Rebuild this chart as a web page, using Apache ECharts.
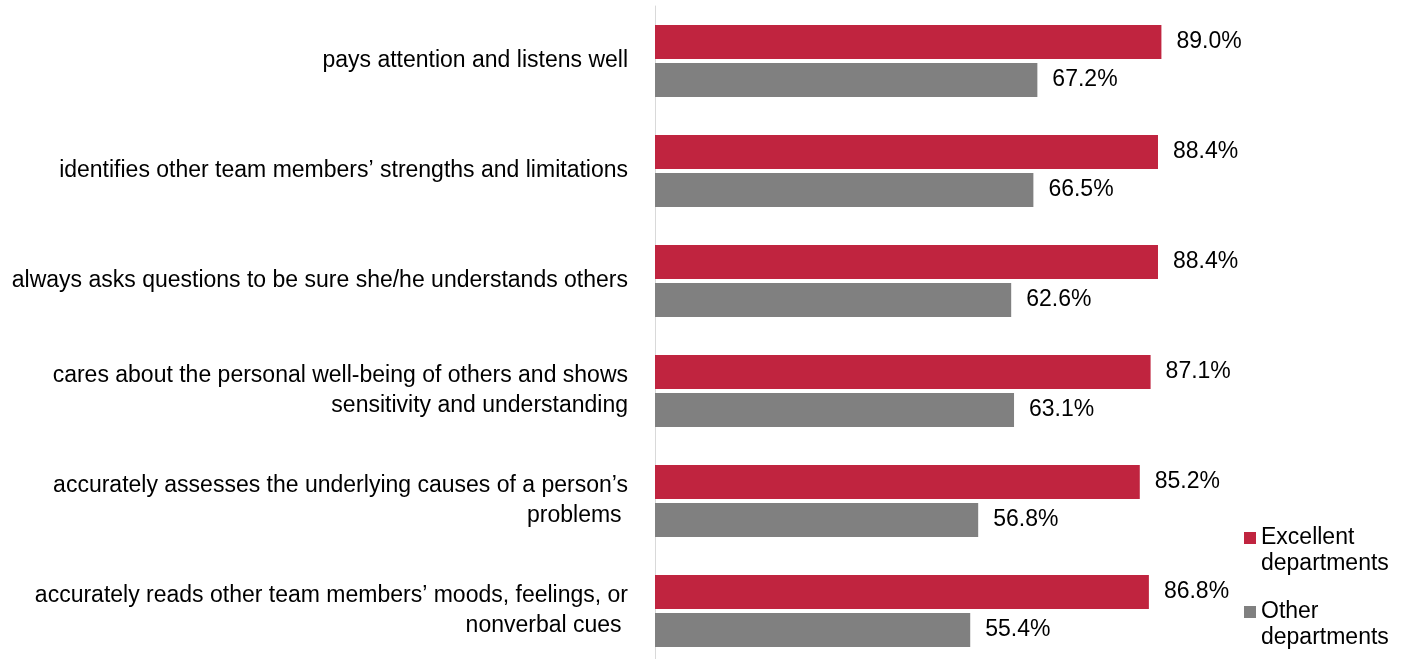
<!DOCTYPE html>
<html><head><meta charset="utf-8">
<script src="https://cdn.jsdelivr.net/npm/echarts@6/dist/echarts.min.js"></script>
<style>html,body{margin:0;padding:0;background:#fff;overflow:hidden}#c{width:1402px;height:672px}</style>
</head><body><div id="c"></div>
<script>
const categories = [
  "pays attention and listens well",
  "identifies other team members’ strengths and limitations",
  "always asks questions to be sure she/he understands others",
  "cares about the personal well-being of others and shows\nsensitivity and understanding",
  "accurately assesses the underlying causes of a person’s\nproblems ",
  "accurately reads other team members’ moods, feelings, or\nnonverbal cues "
];
const excellent = [89.0, 88.4, 88.4, 87.1, 85.2, 86.8];
const other = [67.2, 66.5, 62.6, 63.1, 56.8, 55.4];
const seriesNames = ["Excellent\ndepartments", "Other\ndepartments"];

const chart = echarts.init(document.getElementById('c'));
const font = "'Liberation Sans', Arial, sans-serif";
const legendIcon = 'path://M0,0H12V12H0Z M11.99,37.99H12V38H11.99Z';
chart.setOption({
  animation: false,
  grid: {left: 655, width: 569, top: 6, height: 660, containLabel: false},
  xAxis: {type: 'value', min: 0, max: 100, show: false},
  yAxis: {
    type: 'category', data: categories, inverse: true,
    axisLine: {lineStyle: {color: '#d9d9d9', width: 1}},
    axisTick: {show: false},
    axisLabel: {margin: 27, fontSize: 23, lineHeight: 30, color: '#000', fontFamily: font, align: 'right'}
  },
  legend: {
    orient: 'vertical', left: 1244, top: 525, itemGap: 22, padding: 0,
    itemWidth: 12, itemHeight: 38, icon: legendIcon,
    textStyle: {fontSize: 23, lineHeight: 26, color: '#000', fontFamily: font},
    data: seriesNames
  },
  series: [
    {name: seriesNames[0], type: 'bar', data: excellent, barWidth: 34, barGap: '12%', barCategoryGap: '34.5%',
     itemStyle: {color: '#C0243F'},
     label: {show: true, position: 'right', distance: 15, fontSize: 23, color: '#000', fontFamily: font, formatter: p => p.value.toFixed(1) + '%'}},
    {name: seriesNames[1], type: 'bar', data: other, barWidth: 34, barGap: '12%', barCategoryGap: '34.5%',
     itemStyle: {color: '#808080'},
     label: {show: true, position: 'right', distance: 15, fontSize: 23, color: '#000', fontFamily: font, formatter: p => p.value.toFixed(1) + '%'}}
  ]
});
</script></body></html>
